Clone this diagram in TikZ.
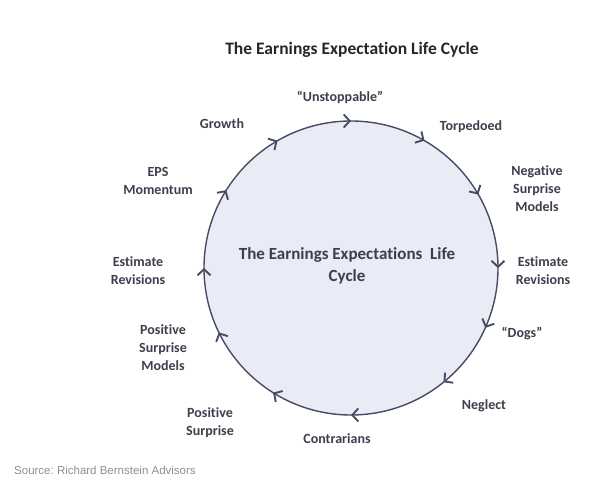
\documentclass[tikz,border=0pt]{standalone}
\usepackage{fontspec}
\setmainfont{Carlito}[Ligatures=NoCommon]
\newfontfamily\srcfont{Liberation Sans}
\usetikzlibrary{arrows.meta,decorations.markings}
\definecolor{ringline}{HTML}{474B66}
\definecolor{ringfill}{HTML}{E9EBF5}
\definecolor{lbltext}{HTML}{3C3F4C}
\definecolor{srctext}{HTML}{8E8E8E}
\tikzset{
  lbl/.style={align=center, text=lbltext, font=\fontsize{14}{18}\selectfont\bfseries, inner sep=0pt},
  ringtip/.style={ringline, line width=1.9pt},
  ring/.style={draw=ringline, line width=1.4pt, fill=ringfill,
    postaction={decorate, decoration={markings,
      mark=at position 0.0001 with {\arrow[ringtip]{Straight Barb[length=6pt,width=13pt]}},
      mark=at position 0.0667 with {\arrow[ringtip]{Straight Barb[length=6pt,width=13pt]}},
      mark=at position 0.1417 with {\arrow[ringtip]{Straight Barb[length=6pt,width=13pt]}},
      mark=at position 0.25 with {\arrow[ringtip]{Straight Barb[length=6pt,width=13pt]}},
      mark=at position 0.3389 with {\arrow[ringtip]{Straight Barb[length=6pt,width=13pt]}},
      mark=at position 0.4278 with {\arrow[ringtip]{Straight Barb[length=6pt,width=13pt]}},
      mark=at position 0.5 with {\arrow[ringtip]{Straight Barb[length=6pt,width=13pt]}},
      mark=at position 0.5889 with {\arrow[ringtip]{Straight Barb[length=6pt,width=13pt]}},
      mark=at position 0.6667 with {\arrow[ringtip]{Straight Barb[length=6pt,width=13pt]}},
      mark=at position 0.75 with {\arrow[ringtip]{Straight Barb[length=6pt,width=13pt]}},
      mark=at position 0.8333 with {\arrow[ringtip]{Straight Barb[length=6pt,width=13pt]}},
      mark=at position 0.9167 with {\arrow[ringtip]{Straight Barb[length=6pt,width=13pt]}}}}}
}
\begin{document}
\begin{tikzpicture}[x=1pt,y=-1pt]
\useasboundingbox (0,0) rectangle (605,481);
% the cycle
\path[ring] (351,268) circle[radius=147];
\node[text=black!85, font=\fontsize{17.5}{20}\selectfont\bfseries] (title) at (352,50){The Earnings Expectation Life Cycle};
\node[lbl, font=\fontsize{17}{22}\selectfont\bfseries] (mid) at (347,266){The Earnings Expectations\ \ Life\\Cycle};
% stages, clockwise from the top
\node[lbl] (unst) at (340,97){``Unstoppable''};
\node[lbl] (torp) at (471,127){Torpedoed};
\node[lbl] (negsm) at (537,189){Negative\\Surprise\\Models};
\node[lbl] (estr) at (543,271){Estimate\\Revisions};
\node[lbl] (dogs) at (522,334){``Dogs''};
\node[lbl] (negl) at (484,406){Neglect};
\node[lbl] (contr) at (337,439){Contrarians};
\node[lbl] (possur) at (210,423){Positive\\Surprise};
\node[lbl] (possm) at (163,348){Positive\\Surprise\\Models};
\node[lbl] (estl) at (138,271){Estimate\\Revisions};
\node[lbl] (eps) at (158,181){EPS\\Momentum};
\node[lbl] (growth) at (222,124){Growth};
\node[anchor=west, text=srctext, font=\srcfont\fontsize{11.5}{13}\selectfont, inner sep=0pt] (src) at (14,470){Source:\ Richard Bernstein Advisors};
\end{tikzpicture}
\end{document}
